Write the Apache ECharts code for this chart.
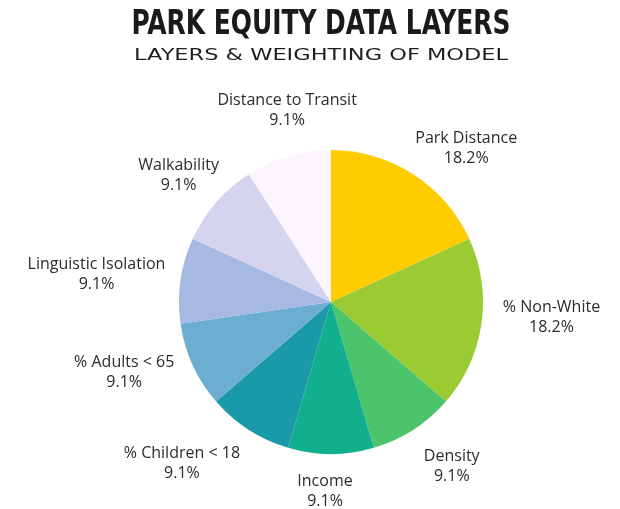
<!DOCTYPE html>
<html>
<head>
<meta charset="utf-8">
<script src="https://cdn.jsdelivr.net/npm/echarts@6/dist/echarts.min.js"></script>
<style>
  html, body { margin: 0; padding: 0; background: #fff; }
  #chart { width: 620px; height: 509px; }
</style>
</head>
<body>
<div id="chart"></div>
<script>
// Model layers and their weights (percent of the equity score)
const layers = [
  'Park Distance', '% Non-White', 'Density', 'Income', '% Children < 18',
  '% Adults < 65', 'Linguistic Isolation', 'Walkability', 'Distance to Transit'
];
const weights = [18.2, 18.2, 9.1, 9.1, 9.1, 9.1, 9.1, 9.1, 9.1];
const layerColors = [
  '#FFCC00', '#9BCB33', '#4CC46B', '#12AF8E', '#1A9AA8',
  '#6CAED2', '#A6B9E2', '#D4D4EF', '#FBF6FD'
];
const titleText = 'PARK EQUITY DATA LAYERS';
const subtitleText = 'LAYERS & WEIGHTING OF MODEL';

const center = [331, 302];
const radius = 152;
const labelGap = 12;
// per-label adjustments [dx, dy] for the outside captions
const labelNudge = [
  [19, 1], [10, -11], [17, 10], [-6, 5], [-29, 7],
  [-12, -6], [-4, -1], [2, -6], [22, -15]
];

const TITLE_FONT = 'bold 33px "DejaVu Sans Condensed", "DejaVu Sans", sans-serif';
const SUB_FONT = 'normal 16px "DejaVu Sans", sans-serif';
const LABEL_FAMILY = '"Open Sans", "Noto Sans", sans-serif';
const LABEL_SIZE = 16;
const LABEL_LINE = 20;

const measureCtx = document.createElement('canvas').getContext('2d');
function textWidth(text, font) {
  measureCtx.font = font;
  return measureCtx.measureText(text).width;
}
// horizontal stretch so a heading spans the wanted width
function fitScale(text, font, targetWidth) {
  return targetWidth / textWidth(text, font);
}
function labelText(name, value) {
  return name + '\n' + value.toFixed(1) + '%';
}

const total = weights.reduce((a, b) => a + b, 0);
const midAngles = [];
let acc = 0;
weights.forEach(w => {
  midAngles.push((90 - 360 * (acc + w / 2) / total) * Math.PI / 180);
  acc += w;
});

const chart = echarts.init(document.getElementById('chart'));
chart.setOption({
  backgroundColor: '#ffffff',
  animation: false,
  graphic: [{
    type: 'text',
    x: 321,
    y: 25,
    scaleX: fitScale(titleText, TITLE_FONT, 379),
    style: {
      text: titleText,
      font: TITLE_FONT,
      fill: '#1a1a1a',
      align: 'center',
      verticalAlign: 'middle'
    }
  }, {
    type: 'text',
    x: 321,
    y: 55.5,
    scaleX: fitScale(subtitleText, SUB_FONT, 374),
    style: {
      text: subtitleText,
      font: SUB_FONT,
      fill: '#1e1e1e',
      align: 'center',
      verticalAlign: 'middle'
    }
  }],
  series: [{
    type: 'pie',
    center: center,
    radius: radius,
    startAngle: 90,
    clockwise: true,
    data: layers.map((name, i) => ({
      name: name,
      value: weights[i],
      itemStyle: { color: layerColors[i] }
    })),
    itemStyle: { borderWidth: 0 },
    emphasis: { disabled: true },
    label: {
      show: true,
      position: 'outside',
      formatter: p => labelText(p.name, p.value),
      fontFamily: LABEL_FAMILY,
      fontSize: LABEL_SIZE,
      lineHeight: LABEL_LINE,
      color: '#2b2b2b',
      align: 'center',
      overflow: 'none',
      width: 220
    },
    labelLine: { show: false },
    labelLayout: function (params) {
      const i = params.dataIndex;
      const t = midAngles[i];
      const font = LABEL_SIZE + 'px ' + LABEL_FAMILY;
      const lines = labelText(layers[i], weights[i]).split('\n');
      const w = Math.max.apply(null, lines.map(l => textWidth(l, font)));
      const h = lines.length * LABEL_LINE;
      const c = Math.cos(t), s = Math.sin(t);
      const x = center[0] + (radius + labelGap) * c + c * w / 2 + labelNudge[i][0];
      const y = center[1] - (radius + labelGap) * s - s * h / 2 + labelNudge[i][1];
      return { x: x, y: y, align: 'center', verticalAlign: 'middle' };
    }
  }]
});
</script>
</body>
</html>
